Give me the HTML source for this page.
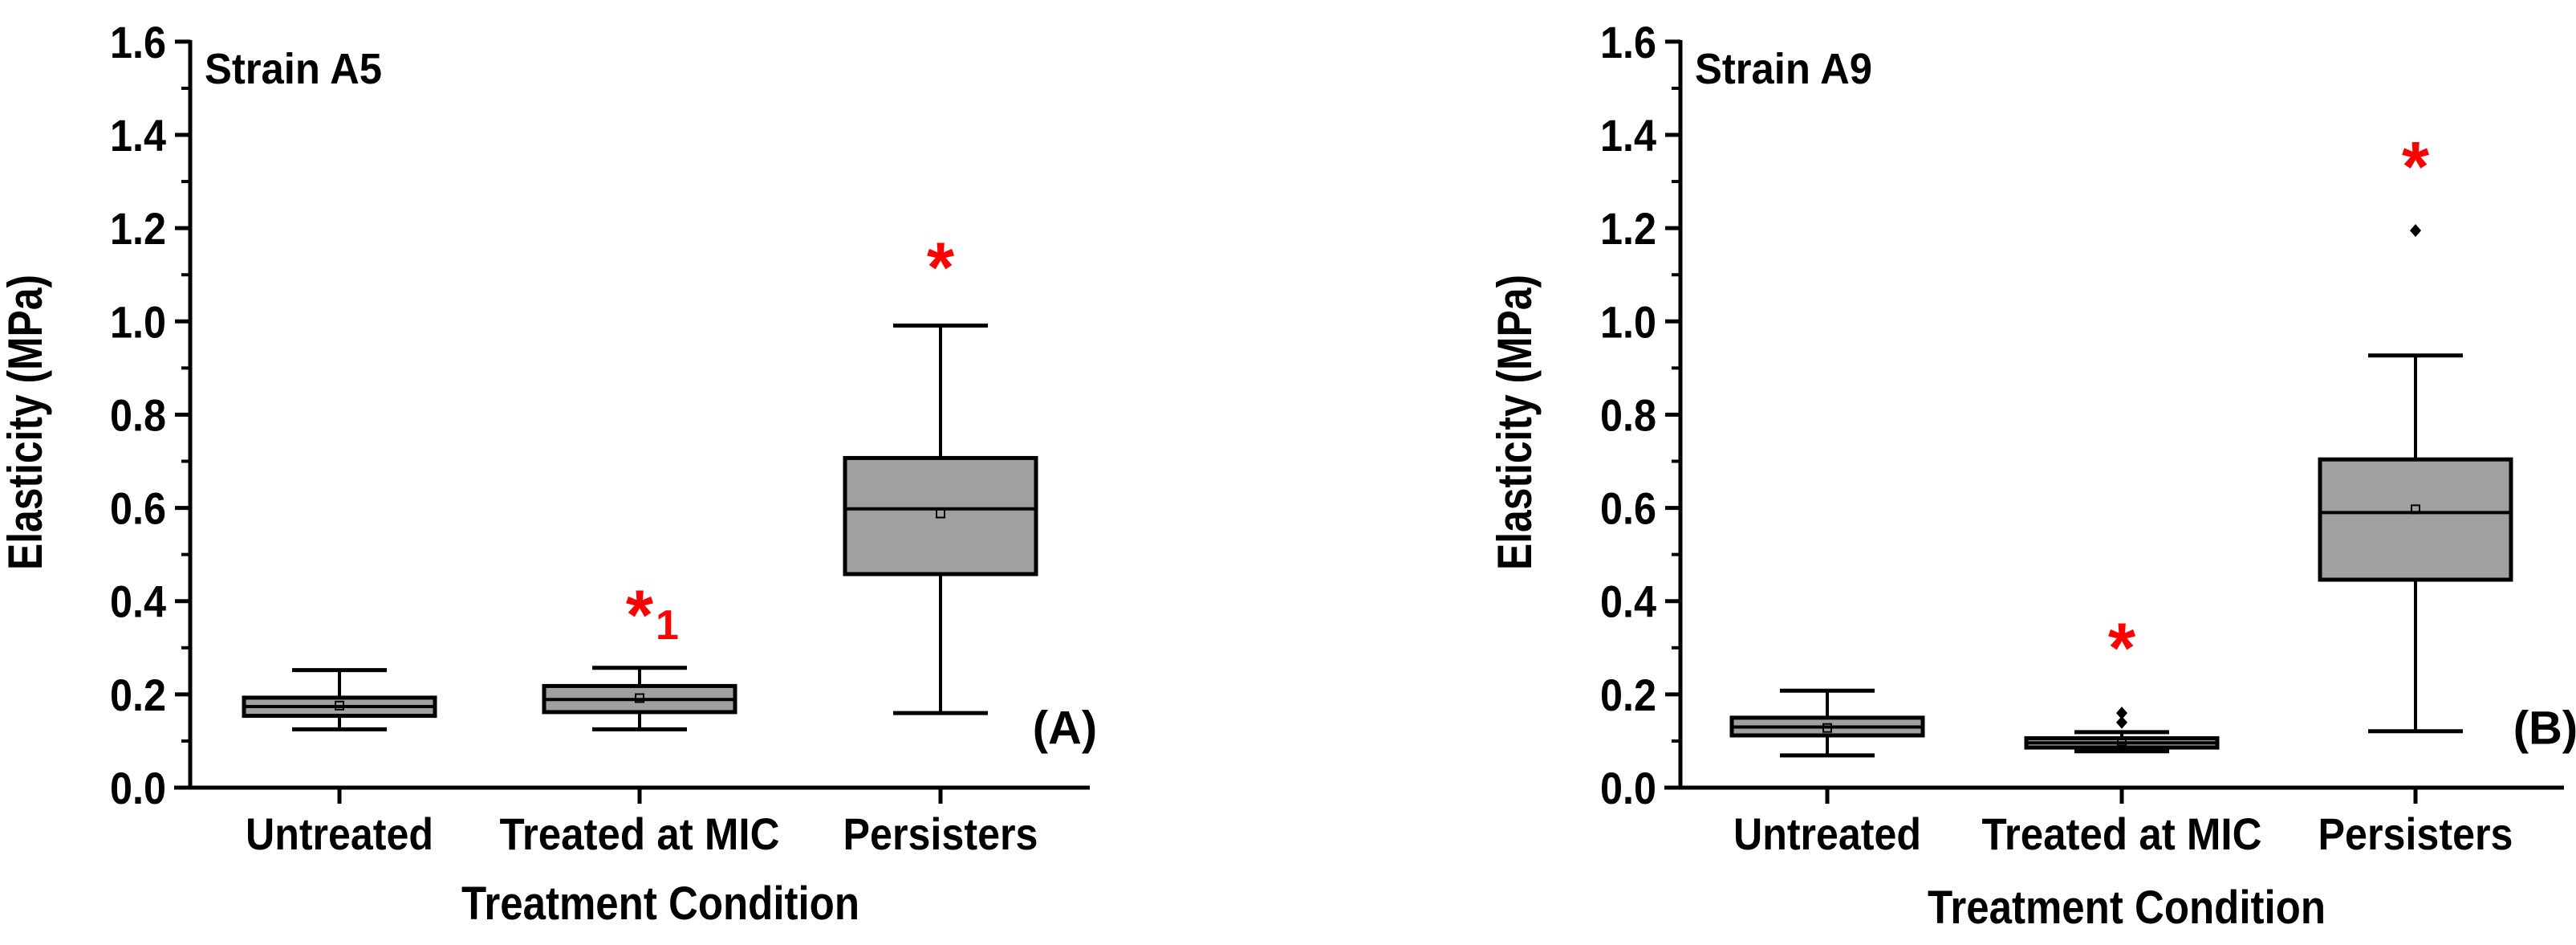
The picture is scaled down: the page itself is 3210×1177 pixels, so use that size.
<!DOCTYPE html>
<html><head><meta charset="utf-8"><style>
html,body{margin:0;padding:0;background:#fff;width:3210px;height:1177px;overflow:hidden}
svg{display:block}
text{font-family:"Liberation Sans Narrow","Liberation Sans",sans-serif;font-weight:bold;fill:#000}
</style></head><body>
<svg id="chart" width="3210" height="1177" viewBox="0 0 3210 1177" xmlns="http://www.w3.org/2000/svg"></svg>
<script>
const categories = ["Untreated", "Treated at MIC", "Persisters"];
const yTicks = [0.0, 0.2, 0.4, 0.6, 0.8, 1.0, 1.2, 1.4, 1.6];
const yTickLabels = ["0.0","0.2","0.4","0.6","0.8","1.0","1.2","1.4","1.6"];
// Strain A5: [whiskerLow, q1, median, q3, whiskerHigh]
const a5Stats = [[0.125,0.154,0.174,0.193,0.252],[0.125,0.162,0.189,0.218,0.257],[0.160,0.458,0.598,0.707,0.991]];
const a5Means = [0.176,0.192,0.588];
const a5Outliers = [[],[],[]];
const a5Stars = [null,0.384,1.13];
const a9Stats = [[0.069,0.112,0.130,0.150,0.208],[0.078,0.086,0.096,0.106,0.119],[0.121,0.446,0.590,0.704,0.927]];
const a9Means = [0.128,0.099,0.597];
const a9Outliers = [[],[0.140,0.160],[1.195]];
const a9Stars = [null,0.313,1.346];

const NS="http://www.w3.org/2000/svg";
const svg=document.getElementById('chart');
function mk(tag,attrs,parent){const e=document.createElementNS(NS,tag);for(const k in attrs)e.setAttribute(k,attrs[k]);(parent||svg).appendChild(e);return e;}

function panel(cfg){
  const g=mk('g',{});
  
  
  const y0=981, pxPer=580.7;
  const Y=v=>y0-v*pxPer;
  const X=i=>cfg.cats[i];
  const ya=mk('line',{x1:cfg.ax,y1:Y(1.6)-2,x2:cfg.ax,y2:y0+2,stroke:'#000','stroke-width':5},g);
  
  
  const xa=mk('line',{x1:cfg.ax-20,y1:y0,x2:cfg.axEnd,y2:y0,stroke:'#000','stroke-width':5},g);
  
  
  for(let i=0;i<yTicks.length;i++){
    const t=mk('line',{x1:cfg.ax-19,y1:Y(yTicks[i]),x2:cfg.ax,y2:Y(yTicks[i]),stroke:'#000','stroke-width':5},g);
    
    
    if(i<yTicks.length-1){
      const m=mk('line',{x1:cfg.ax-11,y1:Y(yTicks[i]+0.1),x2:cfg.ax,y2:Y(yTicks[i]+0.1),stroke:'#000','stroke-width':4},g);
      
      
    }
    const l=mk('text',{x:cfg.ax-30,y:Y(yTicks[i])+20,'text-anchor':'end','font-size':56,textLength:70,lengthAdjust:'spacingAndGlyphs'},g);
    l.textContent=yTickLabels[i];
    
    
  }
  const yt=mk('text',{x:0,y:0,'text-anchor':'middle','font-size':60,textLength:368,lengthAdjust:'spacingAndGlyphs',transform:`translate(${cfg.ytX},526) rotate(-90)`},g);
  yt.textContent='Elasticity (MPa)';
  
  
  const lw=[234,349,243];
  for(let i=0;i<categories.length;i++){
    const t=mk('line',{x1:X(i),y1:y0,x2:X(i),y2:y0+20,stroke:'#000','stroke-width':5},g);
    
    
    const l=mk('text',{x:X(i),y:1058,'text-anchor':'middle','font-size':56,textLength:lw[i],lengthAdjust:'spacingAndGlyphs'},g);
    l.textContent=categories[i];
    
    
  }
  const xt=mk('text',{x:cfg.xtX,y:cfg.xtY,'text-anchor':'middle','font-size':58,textLength:496,lengthAdjust:'spacingAndGlyphs'},g);
  xt.textContent='Treatment Condition';
  
  
  const st=mk('text',{x:cfg.ax+18,y:104,'font-size':54,textLength:221,lengthAdjust:'spacingAndGlyphs'},g);
  st.textContent=cfg.strain;
  
  
  const pl=mk('text',{x:cfg.plX,y:Y(0.13)+21,'text-anchor':'middle','font-size':58},g);
  pl.textContent=cfg.panelLabel;
  
  
  for(let i=0;i<categories.length;i++){
    const s=cfg.stats[i], cx=X(i), hw=119, cw=59;
    const wl=mk('line',{x1:cx,y1:Y(s[0]),x2:cx,y2:Y(s[4]),stroke:'#000','stroke-width':4},g);
    
    
    for(const v of [s[0],s[4]]){
      const c=mk('line',{x1:cx-cw,y1:Y(v),x2:cx+cw,y2:Y(v),stroke:'#000','stroke-width':5},g);
      
      
    }
    const b=mk('rect',{x:cx-hw,y:Y(s[3]),width:2*hw,height:Y(s[1])-Y(s[3]),fill:'#a0a0a0',stroke:'#000','stroke-width':5},g);
    
    
    const md=mk('line',{x1:cx-hw,y1:Y(s[2]),x2:cx+hw,y2:Y(s[2]),stroke:'#000','stroke-width':4},g);
    
    
    const mn=mk('rect',{x:cx-5,y:Y(cfg.means[i])-5,width:10,height:10,fill:'none',stroke:'#000','stroke-width':2},g);
    
    
    for(const o of cfg.outliers[i]){
      const d=mk('path',{d:`M${cx} ${Y(o)-8} L${cx+7} ${Y(o)} L${cx} ${Y(o)+8} L${cx-7} ${Y(o)} Z`,fill:'#000'},g);
      
      
    }
    if(cfg.stars[i]!==null){
      const sx=mk('text',{x:cx,y:Y(cfg.stars[i])+38,'text-anchor':'middle','font-size':88,style:'fill:#ff0000;font-family:"Liberation Sans",sans-serif'},g);
      sx.textContent='*';
      
      
      if(cfg.sub && i===1){
        const sb=mk('text',{x:cx+20,y:Y(cfg.stars[i])+38,'font-size':52,style:'fill:#ff0000'},g);
        sb.textContent='1';
        
        
      }
    }
  }
}
panel({name:'panel-strain-a5',ax:237,axEnd:1358,cats:[423,797,1172],stats:a5Stats,means:a5Means,outliers:a5Outliers,stars:a5Stars,
  strain:'Strain A5',panelLabel:'(A)',plX:1327,ytX:52,xtX:823,xtY:1145,sub:true});
panel({name:'panel-strain-a9',ax:2094,axEnd:3195,cats:[2277,2644,3010],stats:a9Stats,means:a9Means,outliers:a9Outliers,stars:a9Stars,
  strain:'Strain A9',panelLabel:'(B)',plX:3172,ytX:1908,xtX:2650,xtY:1150,sub:false});
</script>
</body></html>
